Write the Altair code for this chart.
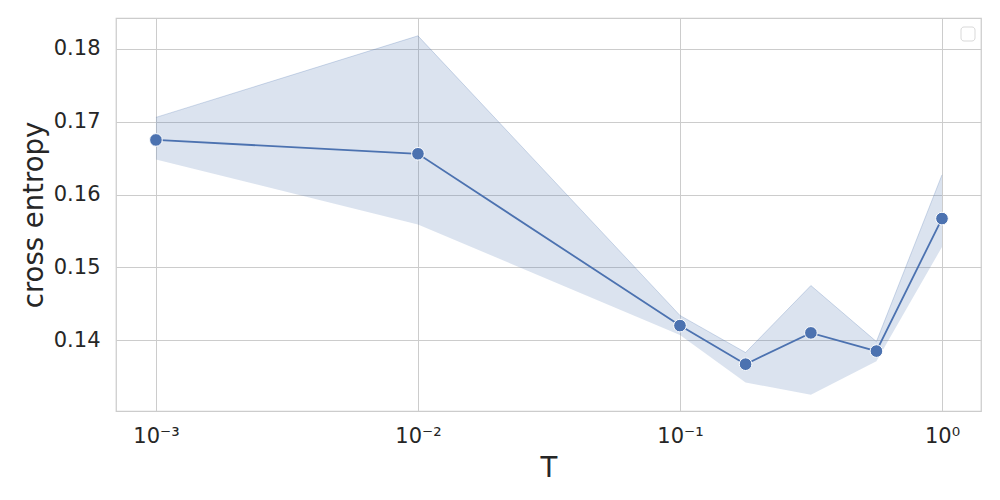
import altair as alt
import pandas as pd

T = [0.001, 0.01, 0.1, 0.178, 0.316, 0.562, 1.0]
ce_mean = [0.1675, 0.1656, 0.1420, 0.1367, 0.1410, 0.1385, 0.1567]
ce_upper = [0.1706, 0.1818, 0.1434, 0.1383, 0.1475, 0.1398, 0.1627]
ce_lower = [0.1648, 0.1559, 0.1407, 0.1342, 0.1325, 0.1371, 0.1528]
x_ticks = [0.001, 0.01, 0.1, 1.0]
y_ticks = [0.14, 0.15, 0.16, 0.17, 0.18]

df = pd.DataFrame({"T": T, "mean": ce_mean, "upper": ce_upper, "lower": ce_lower})

BLUE = "#4c72b0"
FONT = "DejaVu Sans"

xscale = alt.Scale(type="log", domain=[7.04e-4, 1.409], nice=False)
yscale = alt.Scale(domain=[0.13027, 0.18425], nice=False, zero=False)

x_axis = alt.Axis(
    values=x_ticks,
    title="T",
    labelExpr="datum.value < 0.005 ? '10⁻³' : datum.value < 0.05 ? '10⁻²' : datum.value < 0.5 ? '10⁻¹' : '10⁰'",
    grid=True,
    ticks=False,
    labelPadding=14,
    titlePadding=8,
    labelFontSize=21,
    titleFontSize=27.5,
    labelFlush=False,
)
y_axis = alt.Axis(
    values=y_ticks,
    title="cross entropy",
    format=".2f",
    grid=True,
    ticks=False,
    labelPadding=16,
    titlePadding=5,
    labelFontSize=21,
    titleFontSize=27.5,
)

base = alt.Chart(df)

band = base.mark_area(color=BLUE, opacity=0.2, line={"color": BLUE, "strokeOpacity": 0.25, "strokeWidth": 1}).encode(
    x=alt.X("T:Q", scale=xscale, axis=x_axis),
    y=alt.Y("upper:Q", scale=yscale, axis=y_axis),
    y2="lower:Q",
)
line = base.mark_line(color=BLUE, strokeWidth=1.8).encode(
    x=alt.X("T:Q", scale=xscale),
    y=alt.Y("mean:Q", scale=yscale),
)
pts = base.mark_point(filled=True, color=BLUE, size=160, stroke="white", strokeWidth=1, opacity=1).encode(
    x=alt.X("T:Q", scale=xscale),
    y=alt.Y("mean:Q", scale=yscale),
)
legend_box = alt.Chart(pd.DataFrame({"a": [0]})).mark_rect(
    fill="white", stroke="#d9d9d9", strokeWidth=1, cornerRadius=3
).encode(
    x=alt.value(845), x2=alt.value(859), y=alt.value(9), y2=alt.value(23)
)

chart = (
    alt.layer(band, line, pts, legend_box)
    .properties(
        width=865,
        height=393,
        autosize=alt.AutoSizeParams(type="none"),
        padding={"left": 108, "top": 10, "right": 11, "bottom": 81},
    )
    .configure(
        background="white",
        view=alt.ViewConfig(stroke="#cccccc", strokeWidth=1.25),
        axis=alt.AxisConfig(
            domain=False,
            gridColor="#cccccc",
            gridWidth=1,
            labelColor="#262626",
            titleColor="#262626",
            labelFont=FONT,
            titleFont=FONT,
            titleFontWeight="normal",
        ),
    )
)

chart.save("out.html", embed_options={"renderer": "svg", "actions": False})
